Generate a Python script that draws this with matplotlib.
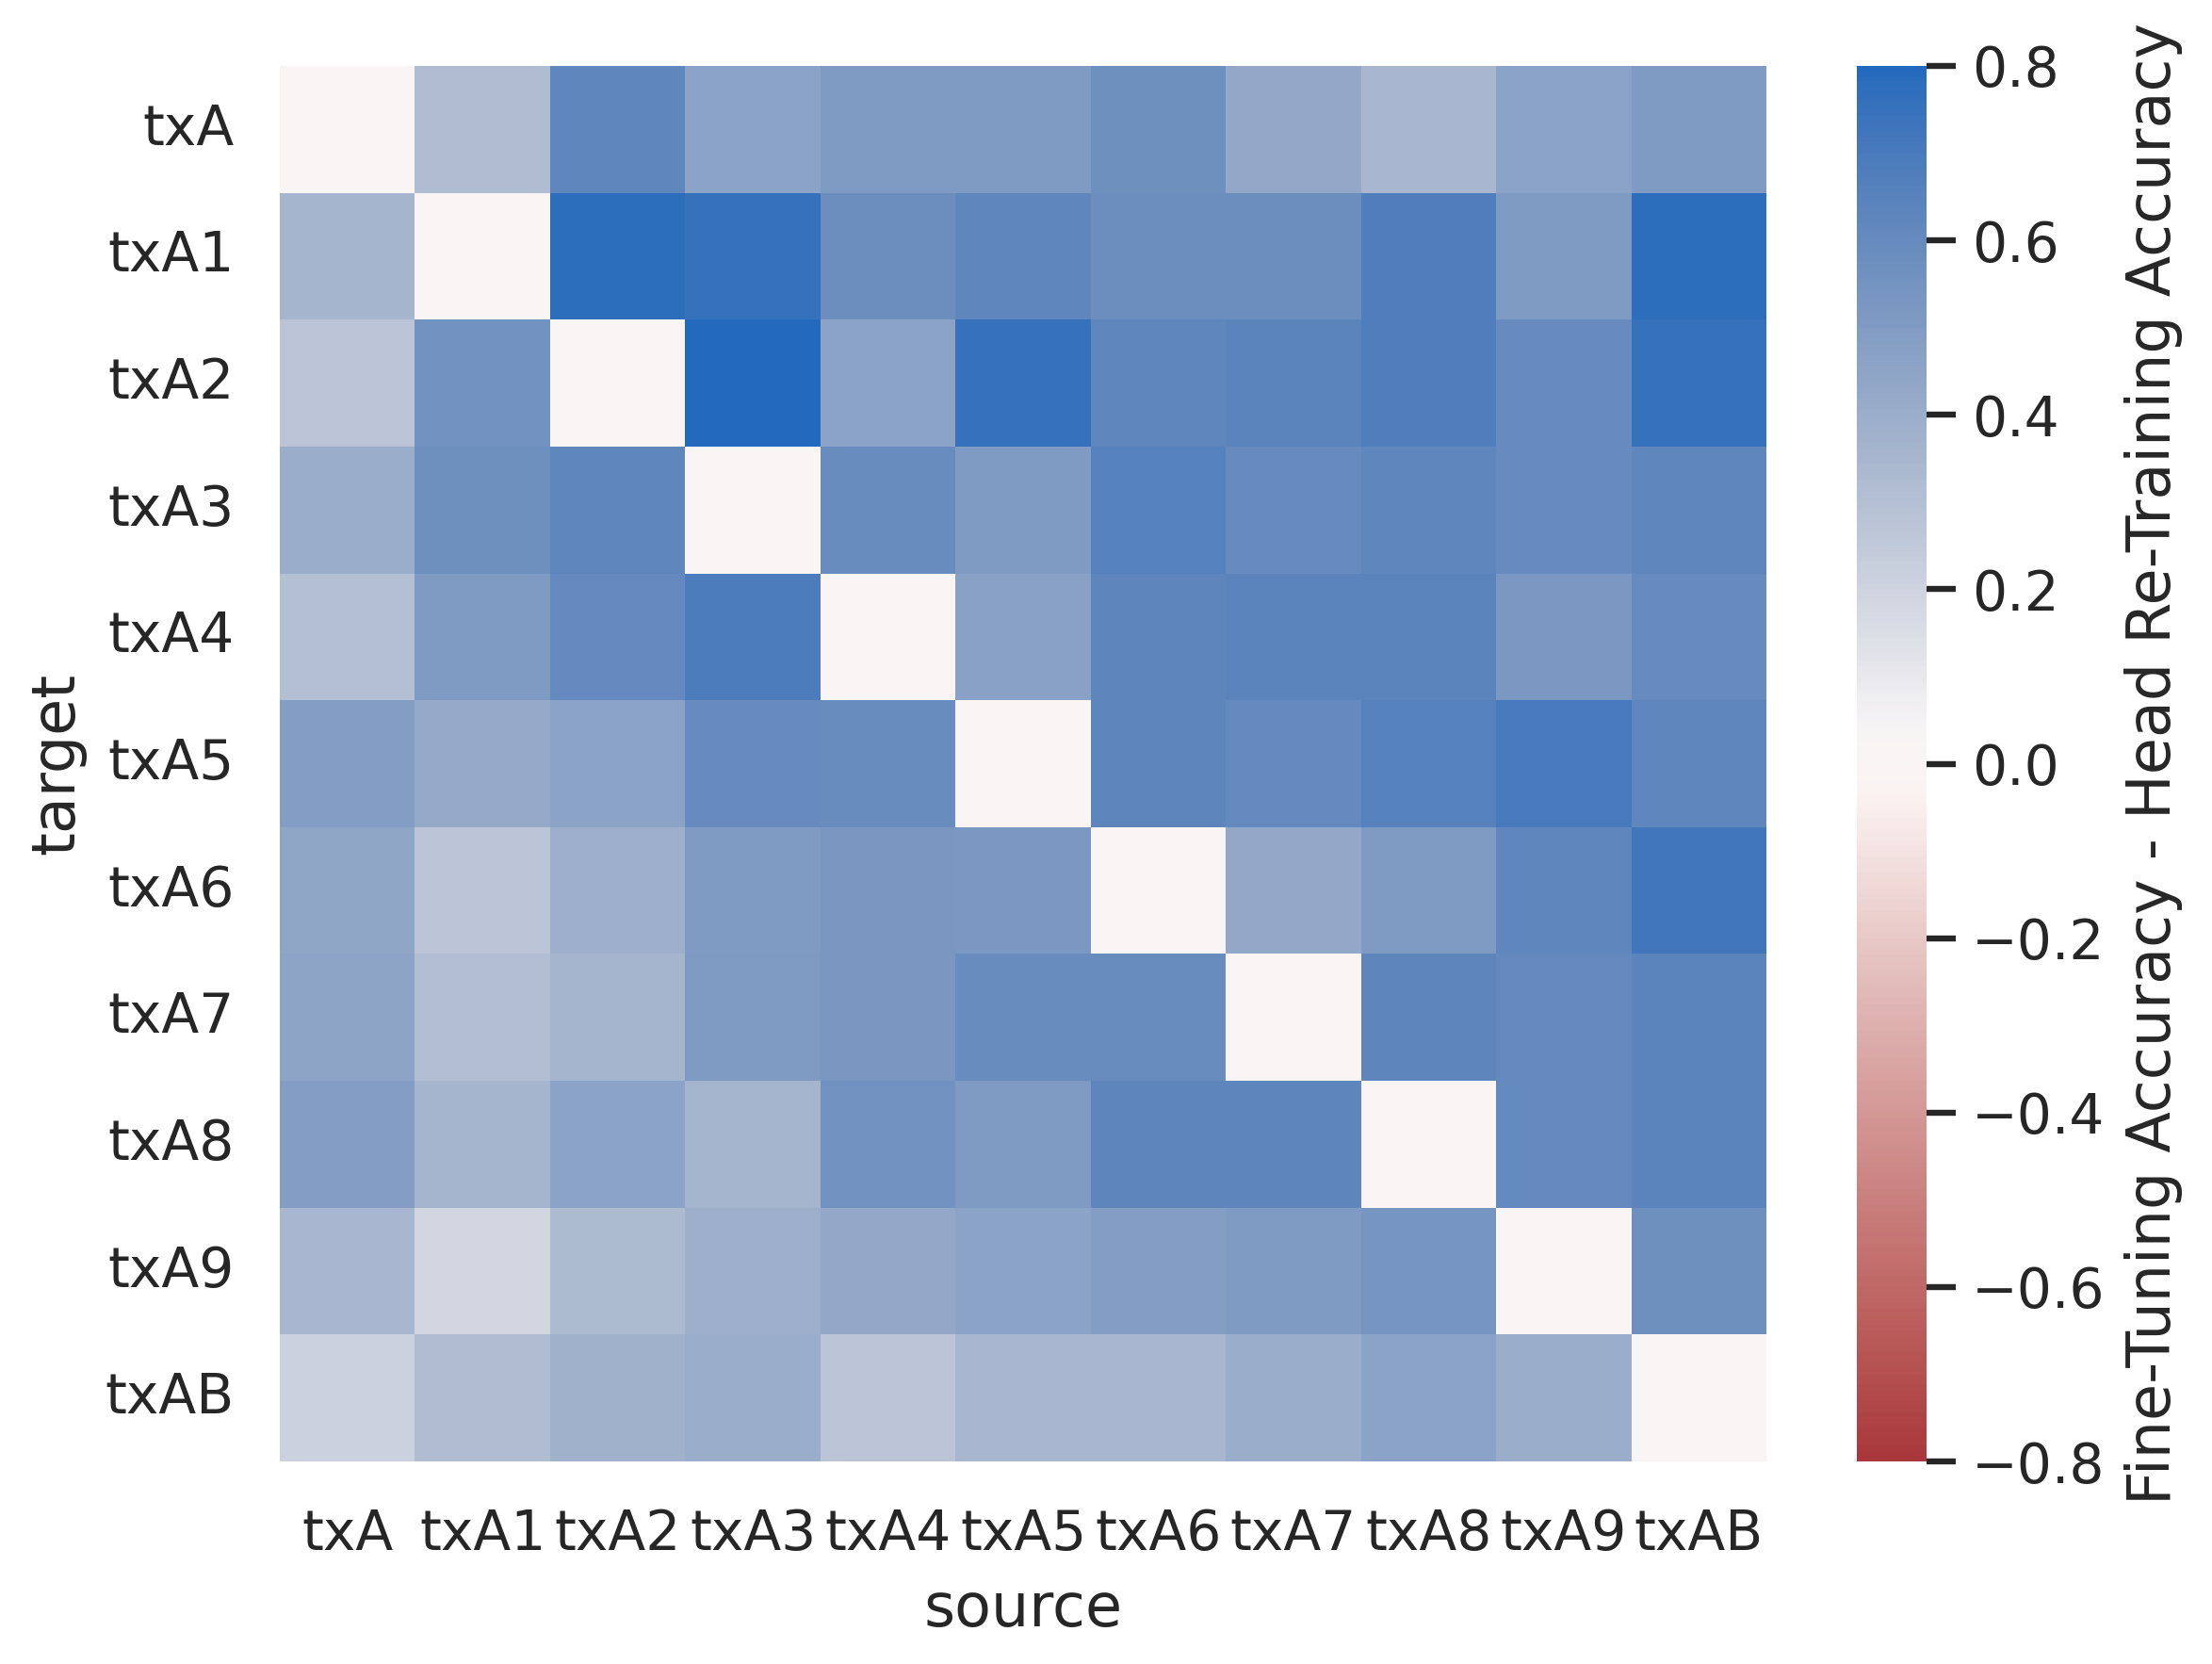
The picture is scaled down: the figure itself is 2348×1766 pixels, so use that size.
import numpy as np
import pandas as pd
import matplotlib
matplotlib.use("Agg")
import matplotlib.pyplot as plt
import seaborn as sns

labels = ["txA", "txA1", "txA2", "txA3", "txA4", "txA5", "txA6", "txA7", "txA8", "txA9", "txAB"]

# rows = target, columns = source
row_txA  = [0.00, 0.32, 0.62, 0.46, 0.50, 0.50, 0.57, 0.43, 0.35, 0.46, 0.50]
row_txA1 = [0.36, 0.00, 0.78, 0.75, 0.58, 0.62, 0.58, 0.58, 0.68, 0.50, 0.78]
row_txA2 = [0.28, 0.56, 0.00, 0.80, 0.46, 0.75, 0.62, 0.64, 0.68, 0.60, 0.75]
row_txA3 = [0.40, 0.57, 0.62, 0.00, 0.59, 0.50, 0.66, 0.60, 0.62, 0.60, 0.62]
row_txA4 = [0.30, 0.50, 0.61, 0.69, 0.00, 0.47, 0.63, 0.64, 0.64, 0.52, 0.60]
row_txA5 = [0.49, 0.42, 0.46, 0.60, 0.59, 0.00, 0.63, 0.61, 0.66, 0.70, 0.62]
row_txA6 = [0.44, 0.27, 0.39, 0.50, 0.53, 0.52, 0.00, 0.43, 0.50, 0.62, 0.72]
row_txA7 = [0.45, 0.31, 0.36, 0.51, 0.53, 0.59, 0.59, 0.00, 0.63, 0.61, 0.64]
row_txA8 = [0.49, 0.36, 0.46, 0.36, 0.56, 0.50, 0.63, 0.63, 0.00, 0.61, 0.64]
row_txA9 = [0.35, 0.19, 0.33, 0.39, 0.43, 0.46, 0.49, 0.50, 0.54, 0.00, 0.57]
row_txAB = [0.21, 0.32, 0.38, 0.40, 0.28, 0.35, 0.35, 0.40, 0.46, 0.40, 0.00]

rows = [row_txA, row_txA1, row_txA2, row_txA3, row_txA4, row_txA5,
        row_txA6, row_txA7, row_txA8, row_txA9, row_txAB]

df = pd.DataFrame(rows, index=labels, columns=labels)
df.index.name = "target"
df.columns.name = "source"

sns.set_theme(font_scale=1.04)

dpi = 367
fig = plt.figure(figsize=(2348 / dpi, 1766 / dpi), dpi=dpi)
ax = fig.add_axes([0.1265, 0.1217, 0.6721, 0.8387])
cax = fig.add_axes([0.8394, 0.1217, 0.0315, 0.8387])

sns.heatmap(df, ax=ax, cbar_ax=cax, cmap="vlag_r", vmin=-0.8, vmax=0.8,
            cbar_kws={"label": "Fine-Tuning Accuracy - Head Re-Training Accuracy"})
ax.set_yticklabels(labels, rotation=0)
ax.set_xticklabels(labels, rotation=0)

fig.savefig("out.png", dpi=dpi)
